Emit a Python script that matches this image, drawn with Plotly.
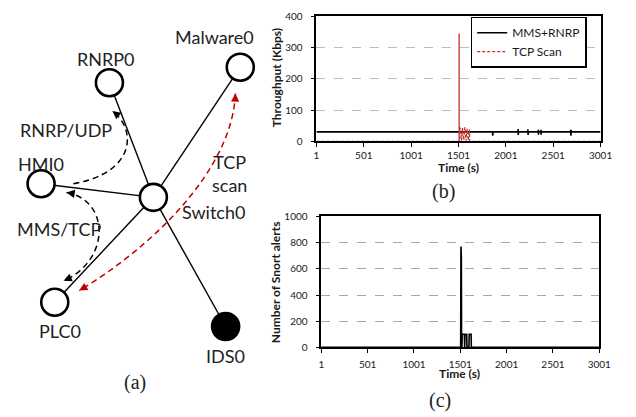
import plotly.graph_objects as go

W, H = 636, 417

# ---------------- data ----------------
x_ticks = [1, 501, 1001, 1501, 2001, 2501, 3001]

mms_time = [1, 1860, 1862, 1864, 1866, 2128, 2130, 2132, 2134, 2232, 2234, 2236, 2238,
            2342, 2344, 2346, 2348, 2370, 2372, 2374, 2376, 2684, 2686, 2688, 2690, 2692, 3001]
mms_kbps = [30, 30, 18, 30, 30, 30, 39, 20, 30, 30, 38, 20, 30,
            30, 37, 21, 30, 30, 37, 21, 30, 30, 37, 18, 36, 30, 30]

tcp_time = [1, 1508, 1508, 1508, 1520, 1532, 1544, 1556, 1568, 1580,
            1592, 1604, 1616, 1620, 3001]
tcp_kbps = [0, 0, 345, 0, 44, 2, 42, 4, 45, 2, 40, 3, 38, 0, 0]

snort_time = [1, 1505, 1508, 1512, 1515, 1518, 1522, 1545, 1548, 1552, 1570, 1573,
              1594, 1597, 1618, 1620, 3001]
snort_alerts = [0, 0, 770, 690, 0, 0, 100, 100, 0, 100, 100, 0,
                0, 100, 100, 0, 0]

# network diagram (left panel)
node_names = ["Malware0", "RNRP0", "HMI0", "Switch0", "PLC0", "IDS0"]
node_x = [243, 109, 39, 154, 53, 228]
node_y = [63, 79, 183, 197, 305, 330]
node_fill = ["white", "white", "white", "white", "white", "black"]
edges = [("Switch0", "RNRP0"), ("Switch0", "Malware0"), ("Switch0", "HMI0"),
         ("Switch0", "PLC0"), ("Switch0", "IDS0")]
label_text = ["Malware0", "RNRP0", "HMI0", "Switch0", "PLC0", "IDS0",
              "RNRP/UDP", "MMS/TCP", "TCP<br>scan"]
label_x = [217, 105, 39, 216, 58, 228, 65, 57, 232]
label_y = [32, 55, 163, 212, 335, 360, 128, 230, 172]


def px(x):
    return x / W


def py(y):
    return 1 - y / H


FONT = "Lato"
SERIF = "Liberation Serif"
RED = "#C0302B"

fig = go.Figure()

# ---- chart (b) ----
fig.add_trace(go.Scatter(x=mms_time, y=mms_kbps, mode="lines", name="MMS+RNRP",
                         line=dict(color="black", width=1.6), xaxis="x", yaxis="y"))
fig.add_trace(go.Scatter(x=tcp_time, y=tcp_kbps, mode="lines", name="TCP Scan",
                         line=dict(color=RED, width=1.3, dash="3px,2px"), xaxis="x", yaxis="y"))
# ---- chart (c) ----
fig.add_trace(go.Scatter(x=snort_time, y=snort_alerts, mode="lines", showlegend=False,
                         line=dict(color="black", width=1.6), xaxis="x2", yaxis="y2"))

# ---- diagram ----
idx = {n: i for i, n in enumerate(node_names)}
ex, ey = [], []
for a, b in edges:
    ex += [node_x[idx[a]], node_x[idx[b]], None]
    ey += [node_y[idx[a]], node_y[idx[b]], None]
fig.add_trace(go.Scatter(x=ex, y=ey, mode="lines", showlegend=False,
                         line=dict(color="black", width=1.4), xaxis="x3", yaxis="y3",
                         hoverinfo="skip"))
fig.add_trace(go.Scatter(x=node_x, y=node_y, mode="markers", showlegend=False,
                         marker=dict(size=27, color=node_fill, line=dict(color="black", width=2.6)),
                         xaxis="x3", yaxis="y3", hoverinfo="skip"))

axis_common = dict(showline=True, linecolor="black", linewidth=1.5, mirror=True,
                   ticks="outside", ticklen=4, tickcolor="black", tickwidth=1.3,
                   zeroline=False, tickfont=dict(family=FONT, size=10, color="#1a1a1a"))

shapes = []
curves = [
    ("M 72,183 C 135,172 138,128 112,108", "black"),
    ("M 65,192 C 110,200 110,262 62,283", "black"),
    ("M 238,90 C 235,170 150,250 78,293", "#C00000"),
]
for path, col in curves:
    shapes.append(dict(type="path", path=path, xref="x3", yref="y3",
                       line=dict(color=col, width=1.5, dash="6px,4px")))

annotations = []
arrows = [  # tip x, tip y, tail x, tail y, color
    (112, 108, 116.7, 111.7, "black"),
    (65, 192, 70.9, 193, "black"),
    (62, 283, 67.5, 280.6, "black"),
    (238, 90, 237.8, 96, "#C00000"),
    (78, 293, 83.2, 290, "#C00000"),
]
for tx, ty, sx, sy, col in arrows:
    annotations.append(dict(x=tx, y=ty, ax=sx, ay=sy, xref="x3", yref="y3", axref="x3", ayref="y3",
                            text="", showarrow=True, arrowhead=2, arrowsize=1.1, arrowwidth=1.5,
                            arrowcolor=col, standoff=0, startstandoff=0))
for t, x, y in zip(label_text, label_x, label_y):
    annotations.append(dict(x=x, y=y, xref="x3", yref="y3", text=t, showarrow=False,
                            xanchor="center", yanchor="middle",
                            font=dict(family=FONT, size=18, color="#222")))


def paper_text(x, y, text, font, angle=0):
    return dict(x=px(x), y=py(y), xref="paper", yref="paper", text=text, showarrow=False,
                xanchor="center", yanchor="middle", textangle=angle, font=font)


tfont = dict(family=FONT, size=12, color="#1a1a1a")
sfont = dict(family=SERIF, size=20, color="#222")
annotations += [
    paper_text(466, 166, "<b>Time (s)</b>", tfont),
    paper_text(468, 378, "<b>Time (s)</b>", tfont),
    paper_text(280, 74, "<b>Throughput (Kbps)</b>", tfont, -90),
    paper_text(279, 284, "<b>Number of Snort alerts</b>", tfont, -90),
    paper_text(135, 388, "(a)", sfont),
    paper_text(451, 191, "(b)", sfont),
    paper_text(448, 406, "(c)", sfont),
]

fig.update_layout(
    width=W, height=H, margin=dict(l=0, r=0, t=0, b=0),
    paper_bgcolor="white", plot_bgcolor="white",
    xaxis=dict(domain=[px(321), px(612)], range=[1, 3001], tickvals=x_ticks,
               showgrid=False, anchor="y", ticklabelstandoff=0, **axis_common),
    yaxis=dict(domain=[py(139.3), py(10.7)], range=[0, 400], tickvals=[0, 100, 200, 300, 400],
               showgrid=True, gridcolor="#BDBDBD", griddash="dash", gridwidth=1,
               anchor="x", ticklabelstandoff=6, **axis_common),
    xaxis2=dict(domain=[px(326), px(610.7)], range=[1, 3001], tickvals=x_ticks,
                showgrid=False, anchor="y2", ticklabelstandoff=3, **axis_common),
    yaxis2=dict(domain=[py(351.5), py(216.7)], range=[0, 1000],
                tickvals=[0, 200, 400, 600, 800, 1000],
                showgrid=True, gridcolor="#A8A8A8", griddash="dash", gridwidth=1,
                anchor="x2", ticklabelstandoff=6, **axis_common),
    xaxis3=dict(domain=[0, px(270)], range=[0, 270], visible=False, anchor="y3", fixedrange=True),
    yaxis3=dict(domain=[0, 1], range=[H, 0], visible=False, anchor="x3", fixedrange=True),
    legend=dict(x=px(479), y=py(11), xanchor="left", yanchor="top",
                bgcolor="white", bordercolor="black", borderwidth=1.5,
                font=dict(family=FONT, size=12, color="#1a1a1a"),
                tracegroupgap=0, itemwidth=30),
    shapes=shapes,
    annotations=annotations,
    showlegend=True,
)

fig.write_html("out.html", config={"displayModeBar": False},
               post_script="document.body.style.margin='0';document.body.style.overflow='hidden';")
